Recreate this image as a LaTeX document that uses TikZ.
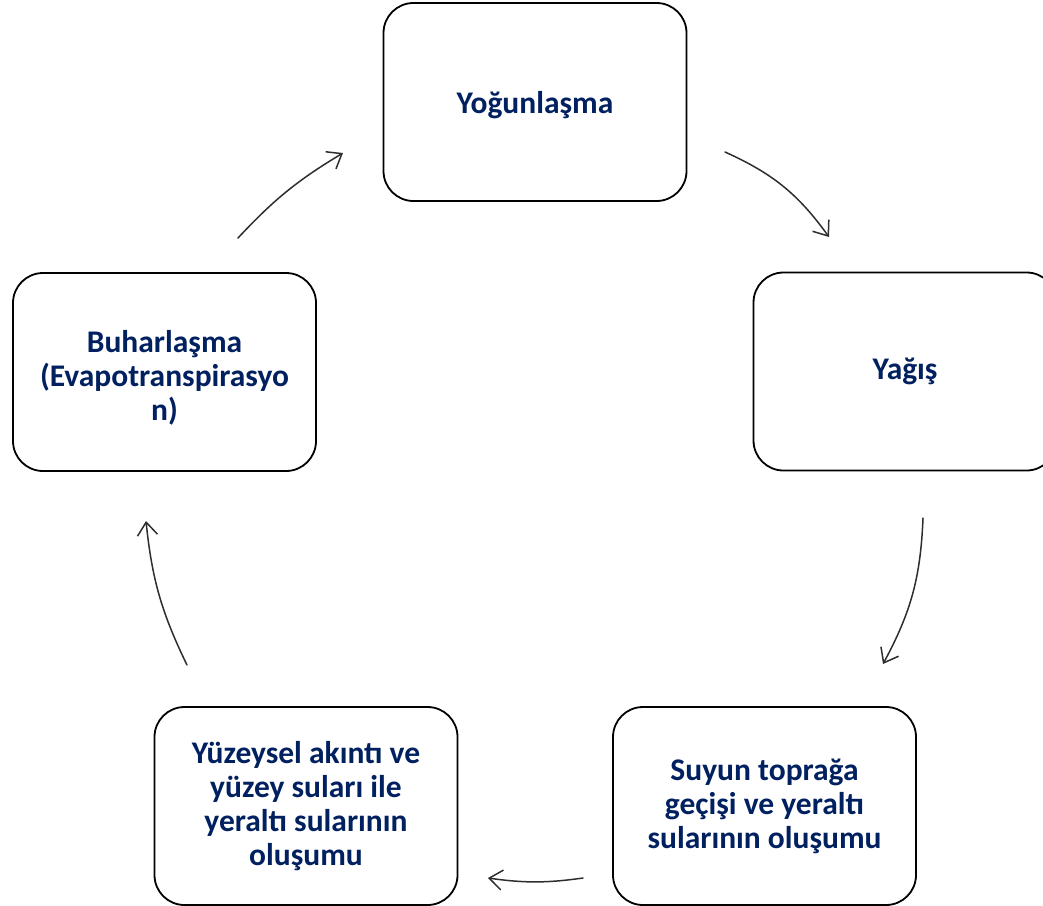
\documentclass[tikz,border=0pt]{standalone}
\usepackage{fontspec}
\setmainfont{Carlito}
\usetikzlibrary{arrows.meta}
\definecolor{navy}{HTML}{002060}
\definecolor{arrowgray}{HTML}{2E2E2E}
\begin{document}
\begin{tikzpicture}[x=1pt,y=1pt,
  stage/.style={draw=black, line width=1.8pt, rounded corners=30pt, fill=white,
    minimum width=303pt, minimum height=198pt, inner sep=0pt,
    align=center, text=navy,
    font=\fontsize{31.5}{34}\selectfont\bfseries},
  flow/.style={draw=arrowgray, line width=1.5pt, line cap=round,
    -{Straight Barb[length=13pt,width=20pt,line width=1.5pt]}}]
  \useasboundingbox (0,0) rectangle (1043,-905);

  % the five stages of the cycle
  \node[stage] (cond)  at (535,-102)   {\rule{0pt}{29pt}Yoğunlaşma};
  \node[stage] (prec)  at (905,-371.5) {Yağış};
  \node[stage] (infil) at (764.5,-806) {Suyun toprağa\\geçişi ve yeraltı\\sularının oluşumu};
  \node[stage] (run)   at (306,-806)   {Yüzeysel akıntı ve\\yüzey suları ile\\yeraltı sularının\\oluşumu};
  \node[stage] (evap)  at (164.5,-372) {\rule{0pt}{34pt}Buharlaşma\\(Evapotranspirasyo\\n)};

  % free ends of the curved arrows between the stages
  \coordinate (c1s) at (725,-152);
  \coordinate (c1e) at (829,-237);
  \coordinate (c2s) at (923,-518);
  \coordinate (c2e) at (883,-664);
  \coordinate (c3s) at (583,-878);
  \coordinate (c3e) at (488,-878);
  \coordinate (c4s) at (187,-665);
  \coordinate (c4e) at (146,-521);
  \coordinate (c5s) at (238,-238);
  \coordinate (c5e) at (343,-153);

  \draw[flow] (c1s) to[bend left=15] (c1e);
  \draw[flow] (c2s) to[bend left=13] (c2e);
  \draw[flow] (c3s) to[bend left=8]  (c3e);
  \draw[flow] (c4s) to[bend left=10] (c4e);
  \draw[flow] (c5s) to[bend left=8]  (c5e);
\end{tikzpicture}
\end{document}
